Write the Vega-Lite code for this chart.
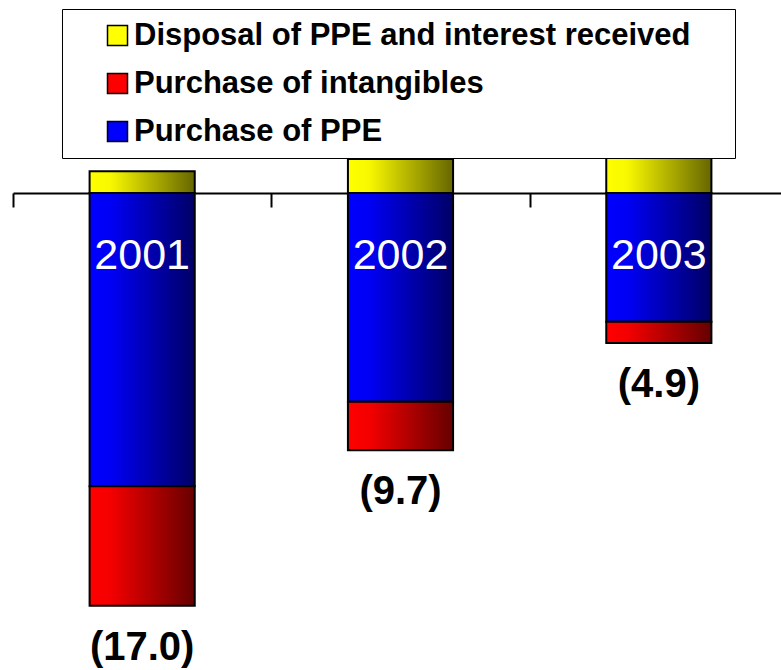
{
  "$schema": "https://vega.github.io/schema/vega-lite/v6.json",
  "width": 781,
  "height": 670,
  "padding": 0,
  "autosize": {"type": "none"},
  "background": "white",
  "config": {"view": {"stroke": null}, "font": "Liberation Sans"},
  "data": {
    "values": [
      {"year": "2001", "series": "Disposal of PPE and interest received", "value": 0.95, "ord": 0},
      {"year": "2001", "series": "Purchase of PPE", "value": -12.75, "ord": 1},
      {"year": "2001", "series": "Purchase of intangibles", "value": -5.2, "ord": 2},
      {"year": "2002", "series": "Disposal of PPE and interest received", "value": 1.48, "ord": 0},
      {"year": "2002", "series": "Purchase of PPE", "value": -9.08, "ord": 1},
      {"year": "2002", "series": "Purchase of intangibles", "value": -2.1, "ord": 2},
      {"year": "2003", "series": "Disposal of PPE and interest received", "value": 1.62, "ord": 0},
      {"year": "2003", "series": "Purchase of PPE", "value": -5.6, "ord": 1},
      {"year": "2003", "series": "Purchase of intangibles", "value": -0.92, "ord": 2}
    ]
  },
  "encoding": {
    "x": {
      "field": "year",
      "type": "nominal",
      "scale": {"range": [13, 788], "paddingInner": 0, "paddingOuter": 0},
      "axis": {
        "orient": "bottom",
        "offset": -477,
        "title": null,
        "labels": false,
        "grid": false,
        "domainColor": "black",
        "domainWidth": 2,
        "tickColor": "black",
        "tickWidth": 2,
        "tickSize": 14,
        "tickBand": "extent"
      }
    }
  },
  "layer": [
    {
      "mark": {"type": "bar", "width": {"band": 0.407}, "stroke": "black", "strokeWidth": 2},
      "encoding": {
        "y": {
          "field": "value",
          "type": "quantitative",
          "stack": "zero",
          "scale": {"domain": [-20.739, 8.391], "nice": false, "zero": false},
          "axis": null
        },
        "order": {"field": "ord", "type": "quantitative"},
        "color": {
          "field": "series",
          "type": "nominal",
          "scale": {
            "domain": ["Disposal of PPE and interest received", "Purchase of intangibles", "Purchase of PPE"],
            "range": ["#ffff00", "#ff0000", "#0000ff"]
          },
          "condition": [
            {"test": "datum.ord == 0", "value": {"gradient": "linear", "x1": 0, "y1": 0, "x2": 1, "y2": 0, "stops": [{"offset": 0, "color": "#ffff00"}, {"offset": 0.2, "color": "#f8f800"}, {"offset": 1, "color": "#666600"}]}},
            {"test": "datum.ord == 2", "value": {"gradient": "linear", "x1": 0, "y1": 0, "x2": 1, "y2": 0, "stops": [{"offset": 0, "color": "#ff0000"}, {"offset": 0.2, "color": "#f40000"}, {"offset": 1, "color": "#660000"}]}},
            {"test": "datum.ord == 1", "value": {"gradient": "linear", "x1": 0, "y1": 0, "x2": 1, "y2": 0, "stops": [{"offset": 0, "color": "#0000ff"}, {"offset": 0.2, "color": "#0000f4"}, {"offset": 1, "color": "#000066"}]}}
          ],
          "legend": {
            "orient": "none",
            "legendX": 62,
            "legendY": 9,
            "title": "\u00a0",
            "titleOrient": "right",
            "titlePadding": 34,
            "titleFontSize": 31,
            "padding": 11,
            "strokeColor": "black",
            "fillColor": "white",
            "symbolType": "square",
            "symbolSize": 400,
            "symbolStrokeColor": "black",
            "symbolStrokeWidth": 1.5,
            "symbolOffset": 29,
            "labelOffset": 1,
            "labelFont": "Liberation Sans",
            "labelFontSize": 31,
            "labelFontWeight": "bold",
            "labelColor": "black",
            "labelLimit": 0,
            "rowPadding": 16,
            "encode": {
              "symbols": {
                "update": {
                  "stroke": {"value": "black"},
                  "strokeWidth": {"value": 1.5}
                }
              }
            }
          }
        }
      }
    },
    {
      "mark": {"type": "text", "color": "white", "fontSize": 43, "font": "Liberation Sans", "baseline": "middle", "align": "center"},
      "transform": [{"filter": "datum.ord == 1"}],
      "encoding": {
        "y": {"datum": -2.74, "type": "quantitative"},
        "text": {"field": "year", "type": "nominal"}
      }
    },
    {
      "mark": {"type": "text", "color": "black", "fontSize": 40, "fontWeight": "bold", "font": "Liberation Sans", "baseline": "middle", "align": "center", "dy": 42},
      "transform": [
        {"joinaggregate": [{"op": "sum", "field": "value", "as": "net"}], "groupby": ["year"]},
        {"filter": "datum.value < 0"},
        {"aggregate": [{"op": "sum", "field": "value", "as": "neg"}, {"op": "max", "field": "net", "as": "net"}], "groupby": ["year"]}
      ],
      "encoding": {
        "y": {"field": "neg", "type": "quantitative"},
        "text": {"field": "net", "type": "quantitative", "format": "(.1f"}
      }
    }
  ]
}
